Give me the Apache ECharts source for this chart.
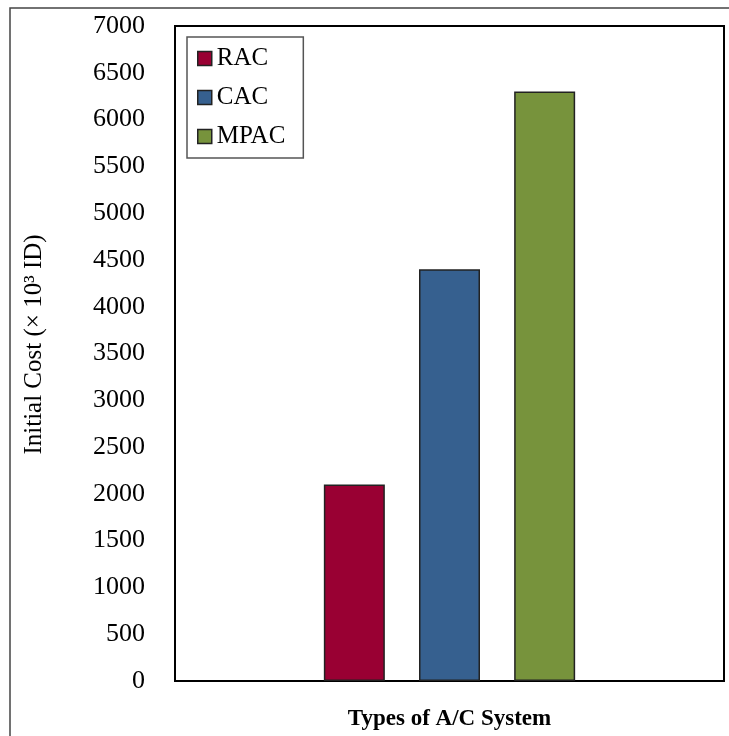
<!DOCTYPE html>
<html>
<head>
<meta charset="utf-8">
<script src="https://cdn.jsdelivr.net/npm/echarts@6/dist/echarts.min.js"></script>
<style>
html,body{margin:0;padding:0;background:#fff;}
#c{width:729px;height:736px;}
</style>
</head>
<body>
<div id="c"></div>
<script>
const categories = ['Types of A/C System'];
const seriesNames = ['RAC', 'CAC', 'MPAC'];
const racValues = [2100];
const cacValues = [4400];
const mpacValues = [6300];
const colors = ['#990033', '#36608F', '#77933C'];

const chart = echarts.init(document.getElementById('c'));
const font = '"Liberation Serif", "DejaVu Serif", serif';
const valuesList = [racValues, cacValues, mpacValues];

chart.setOption({
  animation: false,
  backgroundColor: '#fff',
  graphic: [{
    type: 'rect',
    shape: { x: 10, y: 8, width: 900, height: 900 },
    style: { fill: 'none', stroke: '#444', lineWidth: 1.5 },
    silent: true
  }],
  grid: {
    left: 175, right: 5, top: 26, bottom: 50,
    show: true, borderColor: '#000', borderWidth: 2, backgroundColor: 'transparent'
  },
  legend: {
    left: 187, top: 37,
    orient: 'vertical',
    padding: [9, 18, 9, 10],
    itemGap: 14,
    itemWidth: 14, itemHeight: 14,
    borderColor: '#555', borderWidth: 1.5,
    backgroundColor: '#fff',
    textStyle: { fontFamily: font, fontSize: 25, color: '#000' },
    data: seriesNames.map(n => ({ name: n, icon: 'rect', itemStyle: { borderColor: '#222', borderWidth: 1.5 } }))
  },
  xAxis: {
    type: 'category',
    data: categories,
    axisLabel: { show: false },
    axisTick: { show: false },
    axisLine: { lineStyle: { color: '#000', width: 2 } },
    name: categories[0],
    nameLocation: 'middle',
    nameGap: 27,
    nameTextStyle: { fontFamily: font, fontSize: 23, fontWeight: 'bold', color: '#000' }
  },
  yAxis: {
    type: 'value',
    min: 0, max: 7000, interval: 500,
    axisLine: { show: true, lineStyle: { color: '#000', width: 2 } },
    axisTick: { show: false },
    splitLine: { show: false },
    axisLabel: { fontFamily: font, fontSize: 26, color: '#000', margin: 30, formatter: v => String(v) },
    name: 'Initial Cost (× 10³ ID)',
    nameLocation: 'middle',
    nameGap: 128,
    nameRotate: 90,
    nameTextStyle: { fontFamily: font, fontSize: 25, color: '#000', padding: [0, 0, 0, 18] }
  },
  series: seriesNames.map((n, i) => ({
    name: n,
    type: 'bar',
    data: valuesList[i],
    barWidth: 61,
    barGap: '56%',
    itemStyle: { color: colors[i], borderColor: '#222', borderWidth: 1.5 }
  }))
});
</script>
</body>
</html>
